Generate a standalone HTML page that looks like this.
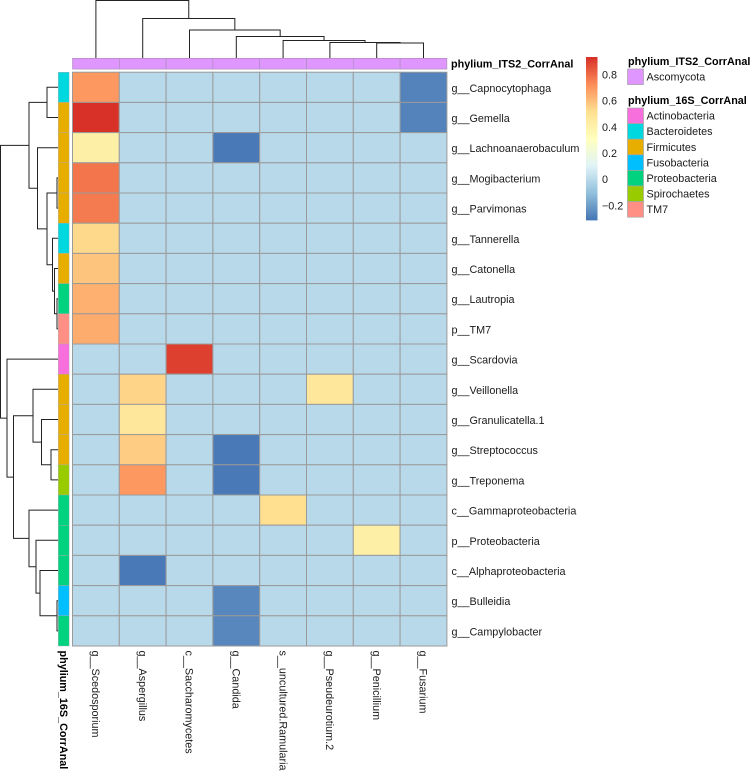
<!DOCTYPE html>
<html lang="en">
<head>
<meta charset="utf-8">
<title>Correlation heatmap</title>
<style>
html,body{margin:0;padding:0;background:#fff;}
svg{display:block;font-family:"Liberation Sans",Arial,sans-serif;}
text{fill:#1a1a1a;font-size:10.8px;}
.b{font-weight:bold;fill:#000;}
</style>
</head>
<body>
<svg id="chart" width="750" height="771" viewBox="0 0 750 771" xmlns="http://www.w3.org/2000/svg"></svg>
<script>
var rowLabels = ["g__Capnocytophaga","g__Gemella","g__Lachnoanaerobaculum","g__Mogibacterium","g__Parvimonas","g__Tannerella","g__Catonella","g__Lautropia","p__TM7","g__Scardovia","g__Veillonella","g__Granulicatella.1","g__Streptococcus","g__Treponema","c__Gammaproteobacteria","p__Proteobacteria","c__Alphaproteobacteria","g__Bulleidia","g__Campylobacter"];
var colLabels = ["g__Scedosporium","g__Aspergillus","c__Saccharomycetes","g__Candida","s__uncultured.Ramularia","g__Pseudeurotium.2","g__Penicillium","g__Fusarium"];
var cellValues = [
[0.70,0,0,0,0,0,0,-0.27],
[0.93,0,0,0,0,0,0,-0.27],
[0.42,0,0,-0.30,0,0,0,0],
[0.78,0,0,0,0,0,0,0],
[0.77,0,0,0,0,0,0,0],
[0.54,0,0,0,0,0,0,0],
[0.59,0,0,0,0,0,0,0],
[0.64,0,0,0,0,0,0,0],
[0.65,0,0,0,0,0,0,0],
[0,0,0.90,0,0,0,0,0],
[0,0.55,0,0,0,0.47,0,0],
[0,0.47,0,0,0,0,0,0],
[0,0.57,0,-0.30,0,0,0,0],
[0,0.70,0,-0.30,0,0,0,0],
[0,0,0,0,0.52,0,0,0],
[0,0,0,0,0,0,0.42,0],
[0,-0.30,0,0,0,0,0,0],
[0,0,0,-0.26,0,0,0,0],
[0,0,0,-0.26,0,0,0,0]
];
var rowPhylum = ["Bacteroidetes","Firmicutes","Firmicutes","Firmicutes","Firmicutes","Bacteroidetes","Firmicutes","Proteobacteria","TM7","Actinobacteria","Firmicutes","Firmicutes","Firmicutes","Spirochaetes","Proteobacteria","Proteobacteria","Proteobacteria","Fusobacteria","Proteobacteria"];
var phylum16S = ["Actinobacteria","Bacteroidetes","Firmicutes","Fusobacteria","Proteobacteria","Spirochaetes","TM7"];
var phylum16SColors = ["#F76FDD","#00D8E0","#E7AE00","#00BFFF","#00D27F","#98CC00","#FF8F85"];
var phylumITS = ["Ascomycota"];
var phylumITSColors = ["#E096FF"];
var paletteStops = ["#4575B4","#91BFDB","#E0F3F8","#FFFFBF","#FEE090","#FC8D59","#D73027"];
var colorTicks = [-0.2,0,0.2,0.4,0.6,0.8];
var valueMin = -0.31, valueMax = 0.935;
/* Dendrogram merges: [childA, childB, height]. Non-negative child = leaf index; negative -(N+1) = earlier merge N */
var rowMerges = [[0,1,11],[3,4,1],[7,8,1],[6,-3,3.5],[5,-4,5.5],[-2,-5,11],[2,-6,20.5],[-1,-7,29],[12,13,7],[11,-9,16.5],[10,-10,25],[17,18,1],[16,-12,18],[15,-13,22],[14,-14,29],[-11,-15,44.5],[9,-16,51],[-8,-17,57.5]];
var colMerges = [[6,7,15],[5,-1,15.5],[4,-2,17.5],[3,-3,21.5],[2,-4,28],[1,-5,39.5],[0,-6,57.5]];

var svg = document.getElementById('chart');
var NS = 'http://www.w3.org/2000/svg';
function mk(tag, attrs, parent, txt){
  var e = document.createElementNS(NS, tag);
  for (var k in attrs) e.setAttribute(k, attrs[k]);
  if (txt !== undefined) e.textContent = txt;
  (parent || svg).appendChild(e);
  return e;
}
function slug(s){ return s.toLowerCase().replace(/[^a-z0-9]+/g,'-').replace(/^-|-$/g,''); }

var gridL = 72.5, gridT = 72.2, cellW = 46.8, cellH = 30.2;
var annTop = 58.3, annSize = 10.8, annLeft = 58.3;
function xCol(i){ return gridL + i * cellW; }
function yRow(i){ return gridT + i * cellH; }
function hexRgb(h){ return [parseInt(h.substr(1,2),16),parseInt(h.substr(3,2),16),parseInt(h.substr(5,2),16)]; }
function colorFor(v){
  var t = Math.max(0, Math.min(1, (v - valueMin) / (valueMax - valueMin))) * (paletteStops.length - 1);
  var i = Math.min(Math.floor(t), paletteStops.length - 2), f = t - i;
  var a = hexRgb(paletteStops[i]), b = hexRgb(paletteStops[i + 1]);
  return 'rgb(' + Math.round(a[0] + (b[0] - a[0]) * f) + ',' + Math.round(a[1] + (b[1] - a[1]) * f) + ',' + Math.round(a[2] + (b[2] - a[2]) * f) + ')';
}

/* heatmap cells */
var gCells = mk('g', {stroke:'#9a9a9a','stroke-width':'1'});


cellValues.forEach(function(row, r){
  row.forEach(function(v, c){
    var cell = mk('rect', {x:xCol(c), y:yRow(r), width:cellW, height:cellH, fill:colorFor(v)}, gCells);
    
    
  });
});

/* top annotation */
var gTop = mk('g', {stroke:'#a88bb5','stroke-width':'0.6'});


colLabels.forEach(function(l, c){
  var a = mk('rect', {x:xCol(c), y:annTop, width:cellW, height:annSize, fill:phylumITSColors[0]}, gTop);
  
  
});

/* left annotation */
var gLeft = mk('g', {'stroke-width':'0.4', stroke:'#aaa'});


rowLabels.forEach(function(l, r){
  var a = mk('rect', {x:annLeft, y:yRow(r), width:annSize, height:cellH, fill:phylum16SColors[phylum16S.indexOf(rowPhylum[r])]}, gLeft);
  
  
});

/* row labels */
rowLabels.forEach(function(l, r){
  var t = mk('text', {x:451.5, y:yRow(r) + cellH / 2 + 4.5}, svg, l);
  
  
});
/* column labels */
colLabels.forEach(function(l, c){
  var cx = xCol(c) + cellW / 2 - 3.8, cy = 650.5;
  var t = mk('text', {x:cx, y:cy, transform:'rotate(90 ' + cx + ' ' + cy + ')'}, svg, l);
  
  
});
/* annotation titles */
var t1 = mk('text', {x:451, y:67.5, 'class':'b'}, svg, 'phylium_ITS2_CorrAnal');


var t2 = mk('text', {x:60, y:650.5, 'class':'b', transform:'rotate(90 60 650.5)'}, svg, 'phylium_16S_CorrAnal');



/* dendrograms */
function drawDendro(merges, leafPos, depth, name, horizontalRoot){
  var g = mk('g', {fill:'none', stroke:'#222', 'stroke-width':'1'});
  
  
  var nodes = [];
  function info(ch){
    return ch >= 0 ? {p:leafPos(ch), h:0} : nodes[-ch - 1];
  }
  merges.forEach(function(m, i){
    var a = info(m[0]), b = info(m[1]), h = m[2];
    var d;
    if (horizontalRoot) {
      d = 'M' + depth(a.h) + ' ' + a.p + 'H' + depth(h) + 'V' + b.p + 'H' + depth(b.h);
    } else {
      d = 'M' + a.p + ' ' + depth(a.h) + 'V' + depth(h) + 'H' + b.p + 'V' + depth(b.h);
    }
    var path = mk('path', {d:d}, g);
    
    
    nodes.push({p:(a.p + b.p) / 2, h:h});
  });
}
drawDendro(rowMerges, function(i){ return yRow(i) + cellH / 2; }, function(h){ return 58 - h; }, 'row-dendrogram', true);
drawDendro(colMerges, function(i){ return xCol(i) + cellW / 2; }, function(h){ return 58 - h; }, 'column-dendrogram', false);

/* colour bar */
var barT = 57, barB = 220, barX = 586, barW = 11.5;
function yVal(v){ return barB - (v - valueMin) / (valueMax - valueMin) * (barB - barT); }
var gBar = mk('g', {});


var steps = 100;
for (var s = 0; s < steps; s++) {
  var v0 = valueMin + (valueMax - valueMin) * s / steps;
  var v1 = valueMin + (valueMax - valueMin) * (s + 1) / steps;
  var seg = mk('rect', {x:barX, y:yVal(v1), width:barW, height:yVal(v0) - yVal(v1) + 0.4, fill:colorFor((v0 + v1) / 2)}, gBar);
  
  
}
colorTicks.forEach(function(v){
  var lab = (v < 0 ? '\u2212' + Math.abs(v) : String(v));
  var t = mk('text', {x:602, y:yVal(v) + 3.8}, svg, lab);
  
  
});

/* legends */
function legend(title, yTitle, items, colors, yStart, step, prefix){
  var tt = mk('text', {x:628, y:yTitle, 'class':'b'}, svg, title);
  
  
  items.forEach(function(it, i){
    var y = yStart + i * step;
    var sw = mk('rect', {x:627.5, y:y, width:16, height:step, fill:colors[i], stroke:'#a5a5a5', 'stroke-width':'0.7'}, svg);
    
    
    var tx = mk('text', {x:646.5, y:y + step / 2 + 3.8}, svg, it);
    
    
  });
}
legend('phylium_ITS2_CorrAnal', 65, phylumITS, phylumITSColors, 69, 15.6, 'its2');
legend('phylium_16S_CorrAnal', 104, phylum16S, phylum16SColors, 108, 15.6, '16s');
</script>
</body>
</html>
